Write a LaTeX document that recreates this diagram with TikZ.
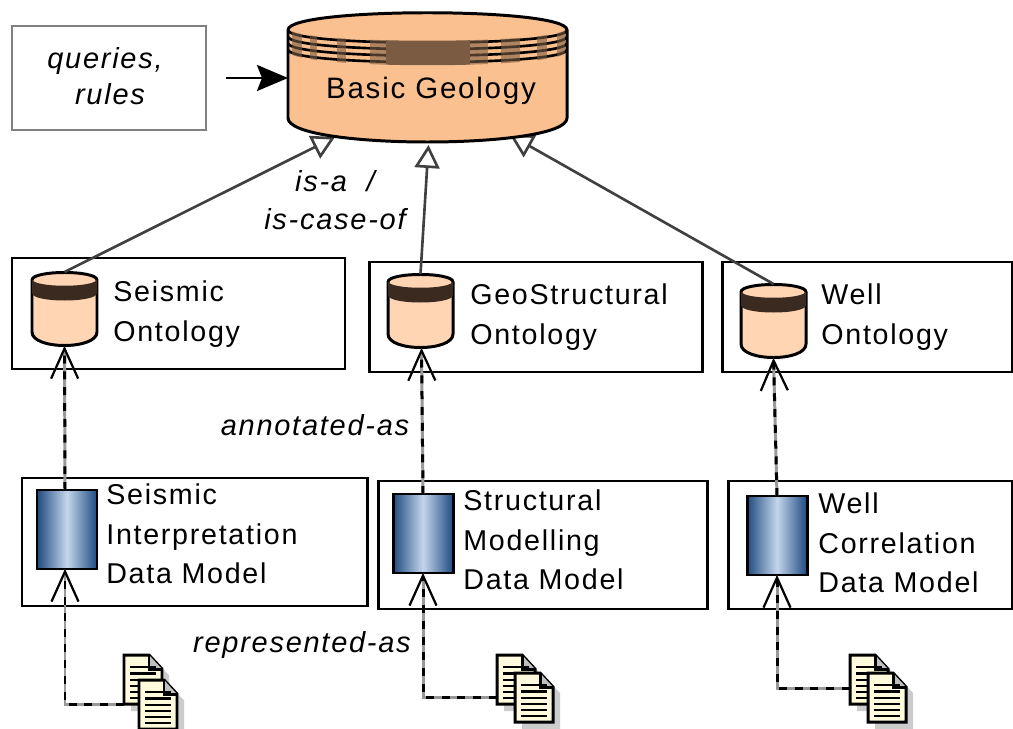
\documentclass[tikz,border=0pt]{standalone}
\usepackage{fontspec}
\setmainfont{Liberation Sans}[LetterSpace=6]
\usetikzlibrary{arrows.meta,fit,calc}
\definecolor{drumbig}{HTML}{FBC08F}
\definecolor{drumsmall}{HTML}{FFD5B4}
\definecolor{bandbrown}{HTML}{7B5C43}
\definecolor{banddark}{HTML}{3B2A20}
\definecolor{cyldark}{HTML}{1F4A80}
\definecolor{cyllight}{HTML}{C3D6EC}
\definecolor{docpaper}{HTML}{FFFBDC}
\tikzset{
	box/.style={draw=black, line width=1.7pt, inner sep=0pt, outer sep=0pt},
	hidden/.style={inner sep=0pt, outer sep=0pt},
	lbl/.style={font=\fontsize{16.3}{22.6}\selectfont, align=left, inner sep=0pt},
	tag/.style={font=\itshape\fontsize{16.5}{22}\selectfont, align=center, inner sep=0pt},
	isa/.style={draw=black!75, line width=1.5pt, -{Triangle[open,fill=white,length=0.46cm,width=0.5cm]}},
	link/.style={draw=black!40, line width=1.7pt, -{Straight Barb[length=0.6cm,width=0.54cm,line width=1.2pt]},
		postaction={draw=black, dash pattern=on 4.5pt off 4.5pt}},
}
% small drum, #1 name, #2 left, #3 top
\newcommand{\smalldrum}[3]{
	\begin{scope}[shift={(#2,#3)}]
	\node[hidden,fit={(0,0) (65,74)}] (#1) {};
	\path[draw=black,fill=drumsmall,line width=1.7pt] (0,8) .. controls (0,-2) and (65,-2) .. (65,8)
		-- (65,60) .. controls (65,78) and (0,78) .. (0,60) -- cycle;
	\fill[banddark] (0,7) .. controls (0,16) and (65,16) .. (65,7)
		-- (65,21) .. controls (65,31) and (0,31) .. (0,21) -- cycle;
	\end{scope}
}
% data model cylinder
\newcommand{\bluecyl}[3]{
	\node[box,left color=cyldark,right color=cyldark,middle color=cyllight,fit={(#2,#3) ($(#2,#3)+(60,79)$)}] (#1) {};
}
% file icon, #1 name, #2 left, #3 top
\newcommand{\docpage}[3]{
	\begin{scope}[shift={(#2,#3)}]
	\fill[black!20] (7,7) -- (32,7) -- (45,20) -- (45,56) -- (7,56) -- cycle;
	\node[hidden,fit={(0,0) (38,49)}] (#1) {};
	\path[draw=black,fill=docpaper,line width=1.7pt] (0,0) -- (25,0) -- (38,14) -- (38,49) -- (0,49) -- cycle;
	\fill[black!25] (25,0) -- (38,14) -- (25,14) -- cycle;
	\draw[black,line width=1.7pt] (25,0) -- (25,14) -- (38,14);
	\foreach \ly in {12,18.5,25,31,37,43}
		\draw[black,line width=1.5pt] (6,\ly) -- (32,\ly);
	\end{scope}
}

\begin{document}
\begin{tikzpicture}[x=0.02cm,y=-0.02cm]
\useasboundingbox (0,0) rectangle (1013,729);

% boxes
\node[box,draw=black!50,fit={(12,26) (206,130)}] (queries) {};
\node[box,fit={(12,258) (345,369)}] (seismicbox) {};
\node[box,fit={(369,262) (702,372)}] (geobox) {};
\node[box,fit={(722,262) (1012,372)}] (wellbox) {};
\node[box,fit={(22,478) (367,606)}] (seismicmodel) {};
\node[box,fit={(378,481) (707,609)}] (geomodel) {};
\node[box,fit={(728,481) (1012,609)}] (wellmodel) {};

\smalldrum{seismicdrum}{32}{272}
\smalldrum{geodrum}{388}{274}
\smalldrum{welldrum}{741}{284}

\bluecyl{seismiccyl}{37}{490}
\bluecyl{geocyl}{393}{494}
\bluecyl{wellcyl}{747}{496}

% files
\docpage{seismicdocA}{124}{655}
\docpage{seismicdocB}{139}{680}
\docpage{geodocA}{497}{655}
\docpage{geodocB}{515}{673}
\docpage{welldocA}{850}{655}
\docpage{welldocB}{868}{673}

% is-a arrows go below the big drum
\node[hidden,fit={(288,13) (567,142)}] (basic) {};
\draw[isa] (seismicdrum.north) -- ([xshift=-1.85cm,yshift=0.1cm]basic.south);
\draw[isa] (geodrum.north) -- ([xshift=0.02cm,yshift=-0.06cm]basic.south);
\draw[isa] (welldrum.north) -- ([xshift=1.65cm,yshift=0.14cm]basic.south);

% big drum
\path[draw=black,fill=drumbig,line width=1.7pt] (288,30) .. controls (288,7) and (567,7) .. (567,30)
	-- (567,118) .. controls (567,150) and (288,150) .. (288,118) -- cycle;
\foreach \oy in {0,6.5,13,19.5}
	\draw[black,line width=1.5pt] (288,30+\oy) .. controls (288,47+\oy) and (567,47+\oy) .. (567,30+\oy);
\begin{scope}
	\clip (288,28) .. controls (288,45) and (567,45) .. (567,28) -- (567,51) .. controls (567,70) and (288,70) .. (288,51) -- cycle;
	\foreach \xa/\xb in {292/302,310/317,337/346,370/386,470/488,501/520,537/547,557/565}
		\fill[bandbrown,opacity=0.6] (\xa,20) rectangle (\xb,70);
	\fill[bandbrown] (386,20) rectangle (470,70);
\end{scope}
\node[font=\fontsize{16.8}{22}\selectfont,inner sep=0pt] (basiclbl) at (431,91) {Basic Geology};

\draw[-{Stealth[length=0.62cm,width=0.52cm,inset=0.1cm]},line width=1.5pt,shorten <=0.4cm] (queries.east) -- (basic.west |- queries.east);

% dashed links
\draw[link] (seismicmodel.north -| seismiccyl.north) ++(-2,12) -- (seismicdrum.south);
\draw[link] (geocyl.north) -- ([xshift=0.02cm]geodrum.south);
\draw[link] (wellcyl.north) -- (welldrum.south);
\draw[link] (seismicdocA.south west) -| ([xshift=-0.04cm]seismiccyl.south);
\draw[link] ([yshift=0.14cm]geodocA.south west) -| (geocyl.south);
\draw[link] ([yshift=0.32cm]welldocA.south west) -| (wellcyl.south);

% texts
\node[tag] (querieslbl) at (105,76) {queries,\\[-0.04cm] \hspace*{0.2cm}rules};
\node[tag] (isalbl) at (335,200) {is-a~ /\\ is-case-of};
\node[tag] (annotlbl) at (315,425) {annotated-as};
\node[tag] (reprlbl) at (302,645) {represented-as};
\node[lbl,anchor=west] (seismiclbl) at (113,314) {Seismic\\Ontology};
\node[lbl,anchor=west] (geolbl) at (470,317) {GeoStructural\\Ontology};
\node[lbl,anchor=west] (welllbl) at (821,317) {Well\\Ontology};
\node[lbl,anchor=west] (seismicmodellbl) at (106,534) {Seismic\\Interpretation\\Data Model};
\node[lbl,anchor=west] (geomodellbl) at (463,540) {Structural\\Modelling\\Data Model};
\node[lbl,anchor=west] (wellmodellbl) at (818,543) {Well\\Correlation\\Data Model};
\end{tikzpicture}
\end{document}
